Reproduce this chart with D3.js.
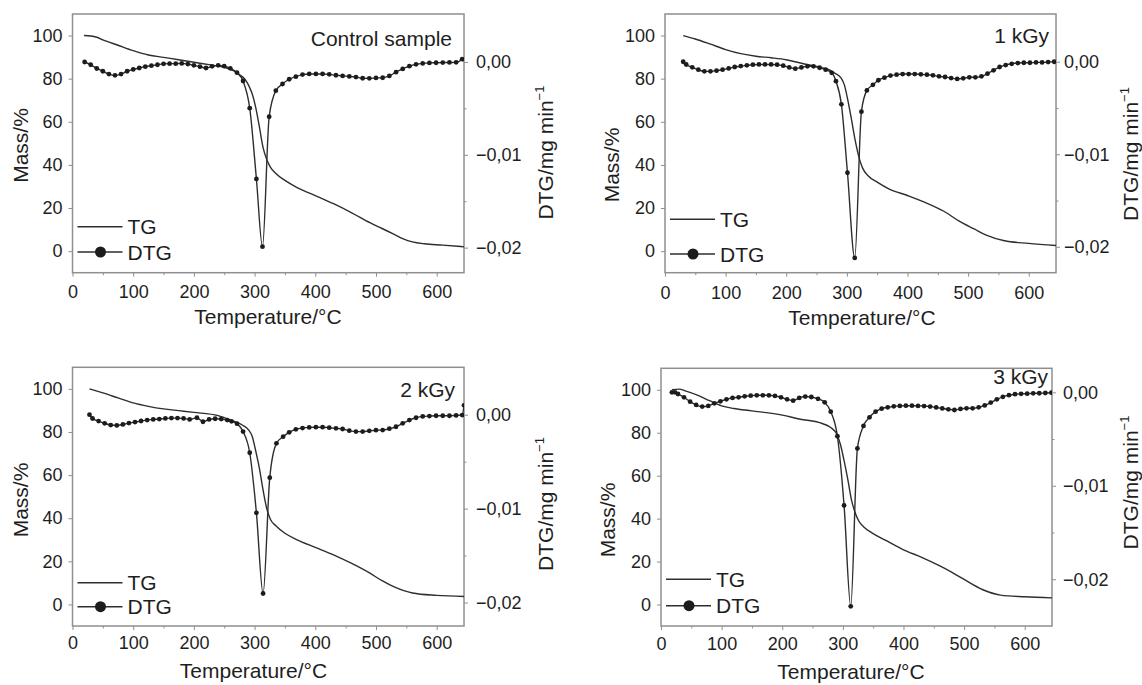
<!DOCTYPE html>
<html>
<head>
<meta charset="utf-8">
<script src="https://cdn.jsdelivr.net/npm/d3@7/dist/d3.min.js"></script>
<style>
  html, body { margin: 0; padding: 0; background: #fff; }
  svg { display: block; }
  text { font-family: "Liberation Sans", Arial, Helvetica, sans-serif; fill: #1e1e1e; }
</style>
</head>
<body>
<svg id="chart" width="1142" height="685"></svg>
<script>
// ---------- DATA ----------
const sampleLabels = ["Control sample", "1 kGy", "2 kGy", "3 kGy"];
const xTickValues = [0, 100, 200, 300, 400, 500, 600];
const massTickValues = [0, 20, 40, 60, 80, 100];
const dtgTickValues = [0, -0.01, -0.02];
const dtgTickLabels = ["0,00", "\u22120,01", "\u22120,02"];

// TG (mass %) curves
const tgTempControl = [19,30,40,50,75,100,125,150,175,200,225,250,265,275,284,290,296,302,308,314,320,326,335,350,370,400,430,460,490,510,530,545,560,580,610,645];
const tgMassControl = [100,99.8,99.2,98,95.5,93,91,89.9,88.8,87.6,86.5,85.3,83.7,81.9,79.8,77,73,66.5,57.5,48,42.5,39,36,32.8,29.5,25.8,22,17.8,13.2,10.5,7.8,5.7,4.3,3.4,2.8,2.0];

const tgTemp1kGy = [30,50,75,100,125,150,175,200,230,260,272,280,290,296,302,308,314,320,326,335,350,370,400,430,460,486,510,530,560,600,645];
const tgMass1kGy = [100,98.4,96,93.5,91.6,90.4,89.7,88.8,86.8,85,84,82.6,80.5,77,69.5,60.5,51,43.5,38.5,35,32,28.8,25.8,22.5,18.5,13.8,10.3,7.4,4.8,3.6,2.6];

const tgTemp2kGy = [28,50,75,100,125,150,175,200,240,260,281,290,296,302,308,314,320,326,335,350,370,400,430,460,490,510,530,560,600,645];
const tgMass2kGy = [100,98.1,95.8,93.5,91.9,90.7,89.9,89.1,87.6,85.6,83,81,78,71,63,53,44.5,39.5,36.5,33,30,26.5,23,19,14.5,11,8.1,5.3,4.2,3.7];

const tgTemp3kGy = [18,30,40,60,80,100,120,150,200,230,260,280,290,296,302,308,314,320,326,335,350,370,400,430,460,480,500,530,560,600,645];
const tgMass3kGy = [100,100.3,99.5,97.5,94.9,92.5,91.3,90.2,88.2,86.3,84.8,82.4,79.3,74.5,67,58.5,49,43,39,36,33,30,25.5,22,18,15,11.7,7,4.4,3.6,3.1];

// DTG (mg min^-1) curves
const dtgTempControl = [20,30,40,50,60,70,80,90,100,110,120,130,140,150,160,170,180,190,200,210,220,230,240,250,260,271,281,292,303,313,324,335,346,357,368,379,390,401,412,423,434,445,456,467,478,489,500,511,522,533,544,555,566,577,588,599,610,621,632,642];
const dtgControl = [0,-0.0003,-0.0007,-0.001,-0.0013,-0.00144,-0.0013,-0.001,-0.0008,-0.00065,-0.0005,-0.0004,-0.0003,-0.0002,-0.00018,-0.00018,-0.00015,-0.00022,-0.00036,-0.0005,-0.00065,-0.00047,-0.00036,-0.00045,-0.00068,-0.00115,-0.00205,-0.00498,-0.0126,-0.0199,-0.0059,-0.00309,-0.00237,-0.00186,-0.00158,-0.00136,-0.00129,-0.00129,-0.00129,-0.00133,-0.00143,-0.0015,-0.00155,-0.00162,-0.00175,-0.00176,-0.00172,-0.0017,-0.0015,-0.0011,-0.00075,-0.00045,-0.00025,-0.00015,-0.0001,-0.00008,-0.00006,-0.00005,-0.00004,0.0003];

const dtgTemp1kGy = [30,35,45,55,65,75,85,95,105,115,125,135,145,155,165,175,185,195,205,215,225,235,245,255,265,275,282,291,301,313,324,333,343,352,362,372,382,392,402,412,422,432,442,452,462,472,482,492,502,512,522,532,542,552,562,572,582,592,602,612,622,632,642];
const dtg1kGy = [0,-0.0003,-0.0006,-0.00086,-0.00104,-0.00104,-0.00097,-0.00086,-0.00072,-0.00057,-0.00047,-0.00039,-0.00032,-0.00029,-0.00029,-0.00029,-0.00032,-0.00043,-0.00061,-0.00075,-0.00061,-0.0005,-0.0005,-0.00065,-0.00086,-0.0012,-0.0021,-0.0046,-0.012,-0.0212,-0.0054,-0.0031,-0.0025,-0.002,-0.00172,-0.0015,-0.0014,-0.00133,-0.00133,-0.00133,-0.00136,-0.0014,-0.00147,-0.00158,-0.00165,-0.00176,-0.00186,-0.00179,-0.00168,-0.00168,-0.00158,-0.00129,-0.00093,-0.00057,-0.00036,-0.00022,-0.00014,-0.00011,-0.00011,-0.00007,-0.00007,-0.00004,0];

const dtgTemp2kGy = [28,33,43,53,63,73,83,93,103,113,123,133,143,153,163,173,183,193,205,215,225,235,245,255,262,271,281,292,303,314,325,336,347,357,368,379,390,401,412,423,434,445,456,467,478,489,500,511,522,533,544,555,566,577,588,599,610,621,632,642,645];
const dtg2kGy = [0,-0.0004,-0.00068,-0.00092,-0.0011,-0.00114,-0.00103,-0.00089,-0.00078,-0.00067,-0.00057,-0.0005,-0.00046,-0.00039,-0.00036,-0.00036,-0.00039,-0.0005,-0.00032,-0.00075,-0.0005,-0.00043,-0.00046,-0.00057,-0.0007,-0.00095,-0.0018,-0.00405,-0.01045,-0.01904,-0.0067,-0.00305,-0.00234,-0.00188,-0.00156,-0.00142,-0.00135,-0.00133,-0.00133,-0.00138,-0.00145,-0.00152,-0.0017,-0.0018,-0.0018,-0.00172,-0.00165,-0.00163,-0.00149,-0.00128,-0.00092,-0.00057,-0.00032,-0.00018,-0.00014,-0.00011,-0.00011,-0.00011,-0.00007,-0.00004,0.001];

const dtgTemp3kGy = [18,23,28,38,48,58,68,78,88,98,108,118,128,138,148,158,168,178,188,198,208,218,228,238,248,259,270,280,291,302,313,324,334,344,354,364,374,384,394,404,414,424,434,444,454,464,474,484,494,504,514,524,534,544,554,564,574,584,594,604,614,624,634,644];
const dtg3kGy = [0,0,-0.00018,-0.00053,-0.001,-0.00135,-0.00153,-0.00146,-0.00118,-0.00096,-0.00075,-0.0006,-0.00053,-0.00043,-0.00036,-0.00032,-0.00032,-0.00032,-0.00039,-0.00053,-0.00075,-0.00089,-0.0006,-0.00045,-0.0005,-0.0007,-0.00107,-0.00207,-0.0047,-0.0121,-0.0229,-0.006,-0.0036,-0.00267,-0.00207,-0.00175,-0.0016,-0.0015,-0.00145,-0.00143,-0.00143,-0.00145,-0.00147,-0.00153,-0.00162,-0.00172,-0.00182,-0.00189,-0.00178,-0.00171,-0.00171,-0.0016,-0.0014,-0.0011,-0.00075,-0.00048,-0.0003,-0.0002,-0.00016,-0.00014,-0.00011,-0.0001,-0.00007,-0.00004];

// ---------- LAYOUT ----------
const panels = [
  { label: sampleLabels[0], tgT: tgTempControl, tgM: tgMassControl, dT: dtgTempControl, dV: dtgControl,
    L: 72.5, T: 14, R: 464, B: 272.7, dtgDomain: [-0.0227, 0.00517],
    labelDx: 12, labelY: 45.7, xTitleX: 268, xTitleY: 324, massX: 20, massY: 145.5,
    dtgTitleX: 545, dtgTitleY: 152.5, tgLegY: 226.7, dtgLegY: 252, xPad: 8.5, rPad: 8 },
  { label: sampleLabels[1], tgT: tgTemp1kGy, tgM: tgMass1kGy, dT: dtgTemp1kGy, dV: dtg1kGy,
    L: 665, T: 14, R: 1056, B: 272.7, dtgDomain: [-0.0228, 0.00516],
    labelDx: 7, labelY: 43.3, xTitleX: 862, xTitleY: 325, massX: 611, massY: 165,
    dtgTitleX: 1130, dtgTitleY: 154, tgLegY: 219.3, dtgLegY: 254, xPad: 9.5, rPad: 4 },
  { label: sampleLabels[2], tgT: tgTemp2kGy, tgM: tgMass2kGy, dT: dtgTemp2kGy, dV: dtg2kGy,
    L: 72.5, T: 367.3, R: 464, B: 626, dtgDomain: [-0.0225, 0.00505],
    labelDx: 9, labelY: 397.3, xTitleX: 253.5, xTitleY: 678, massX: 20, massY: 500,
    dtgTitleX: 545, dtgTitleY: 504, tgLegY: 582.7, dtgLegY: 606.7, xPad: 6.5, rPad: 8 },
  { label: sampleLabels[3], tgT: tgTemp3kGy, tgM: tgMass3kGy, dT: dtgTemp3kGy, dV: dtg3kGy,
    L: 661, T: 368.3, R: 1052, B: 626, dtgDomain: [-0.0250, 0.00257],
    labelDx: 4, labelY: 384, xTitleX: 851, xTitleY: 679, massX: 607.5, massY: 520,
    dtgTitleX: 1130, dtgTitleY: 482.5, tgLegY: 579.3, dtgLegY: 605.7, xPad: 7, rPad: 7 }
];

const LINE = "#2e2e2e", FRAME = "#8f8f8f";
const svg = d3.select("#chart");

panels.forEach((p, i) => {
  const g = svg.append("g");
  const x = d3.scaleLinear().domain([0, 645]).range([p.L, p.R]);
  const yL = d3.scaleLinear().domain([-10, 110]).range([p.B, p.T]);
  const yR = d3.scaleLinear().domain(p.dtgDomain).range([p.B, p.T]);

  // clip
  const cid = "clip" + i;
  svg.append("clipPath").attr("id", cid).append("rect")
    .attr("x", p.L).attr("y", p.T).attr("width", p.R - p.L).attr("height", p.B - p.T);

  // axes
  const styleAxis = sel => {
    sel.select(".domain").remove();
    sel.selectAll(".tick line").attr("stroke", FRAME).attr("stroke-width", 1);
    sel.selectAll(".tick text").style("font-size", "18px").attr("fill", "#1e1e1e");
  };
  g.append("g").attr("transform", `translate(0,${p.B})`)
    .call(d3.axisBottom(x).tickValues(xTickValues).tickSize(4).tickPadding(p.xPad).tickFormat(d3.format("d")))
    .call(styleAxis);
  g.append("g").attr("transform", `translate(0,${p.B})`)
    .call(d3.axisBottom(x).tickValues([50,150,250,350,450,550]).tickSize(2.5).tickFormat(""))
    .call(styleAxis);
  g.append("g").attr("transform", `translate(${p.L},0)`)
    .call(d3.axisLeft(yL).tickValues(massTickValues).tickSize(4).tickPadding(6).tickFormat(d3.format("d")))
    .call(styleAxis);
  g.append("g").attr("transform", `translate(${p.R},0)`)
    .call(d3.axisRight(yR).tickValues(dtgTickValues).tickSize(4).tickPadding(p.rPad)
      .tickFormat((d, k) => dtgTickLabels[k]))
    .call(styleAxis);
  g.append("g").attr("transform", `translate(${p.R},0)`)
    .call(d3.axisRight(yR).tickValues([-0.005, -0.015]).tickSize(2.5).tickFormat(""))
    .call(styleAxis);

  // frame
  g.append("rect").attr("x", p.L).attr("y", p.T).attr("width", p.R - p.L).attr("height", p.B - p.T)
    .attr("fill", "none").attr("stroke", FRAME).attr("stroke-width", 1.5);

  const plot = g.append("g").attr("clip-path", `url(#${cid})`);

  // TG line
  const tgData = p.tgT.map((t, k) => [t, p.tgM[k]]);
  plot.append("path").datum(tgData)
    .attr("d", d3.line().x(d => x(d[0])).y(d => yL(d[1])).curve(d3.curveMonotoneX))
    .attr("fill", "none").attr("stroke", LINE).attr("stroke-width", 1.4);

  // DTG line + markers
  const dtgData = p.dT.map((t, k) => [t, p.dV[k]]);
  plot.append("path").datum(dtgData)
    .attr("d", d3.line().x(d => x(d[0])).y(d => yR(d[1])).curve(d3.curveMonotoneX))
    .attr("fill", "none").attr("stroke", LINE).attr("stroke-width", 1.4);
  plot.selectAll("circle.m").data(dtgData).enter().append("circle")
    .attr("cx", d => x(d[0])).attr("cy", d => yR(d[1])).attr("r", 2.4).attr("fill", "#1c1c1c");

  // sample label
  g.append("text").attr("x", p.R - p.labelDx).attr("y", p.labelY)
    .attr("text-anchor", "end").style("font-size", "21px").text(p.label);

  // axis titles
  g.append("text").attr("x", p.xTitleX).attr("y", p.xTitleY).attr("text-anchor", "middle")
    .style("font-size", "21px").text("Temperature/\u00B0C");
  g.append("text").attr("transform", `translate(${p.massX},${p.massY}) rotate(-90)`)
    .attr("text-anchor", "middle").attr("dominant-baseline", "central")
    .style("font-size", "21px").text("Mass/%");
  const dt = g.append("text").attr("transform", `translate(${p.dtgTitleX},${p.dtgTitleY}) rotate(-90)`)
    .attr("text-anchor", "middle").attr("dominant-baseline", "central").style("font-size", "21px");
  dt.append("tspan").text("DTG/mg min");
  dt.append("tspan").attr("dy", "-0.45em").style("font-size", "13px").text("\u22121");

  // legend
  const lx0 = p.L + 5, lx1 = p.L + 50, tx = p.L + 55;
  g.append("line").attr("x1", lx0).attr("x2", lx1).attr("y1", p.tgLegY).attr("y2", p.tgLegY)
    .attr("stroke", LINE).attr("stroke-width", 1.4);
  g.append("text").attr("x", tx).attr("y", p.tgLegY).attr("dy", "0.36em")
    .style("font-size", "21px").text("TG");
  g.append("line").attr("x1", lx0).attr("x2", lx1).attr("y1", p.dtgLegY).attr("y2", p.dtgLegY)
    .attr("stroke", LINE).attr("stroke-width", 1.4);
  g.append("circle").attr("cx", p.L + 28).attr("cy", p.dtgLegY).attr("r", 5.5).attr("fill", "#1c1c1c");
  g.append("text").attr("x", tx).attr("y", p.dtgLegY).attr("dy", "0.36em")
    .style("font-size", "21px").text("DTG");
});
</script>
</body>
</html>
